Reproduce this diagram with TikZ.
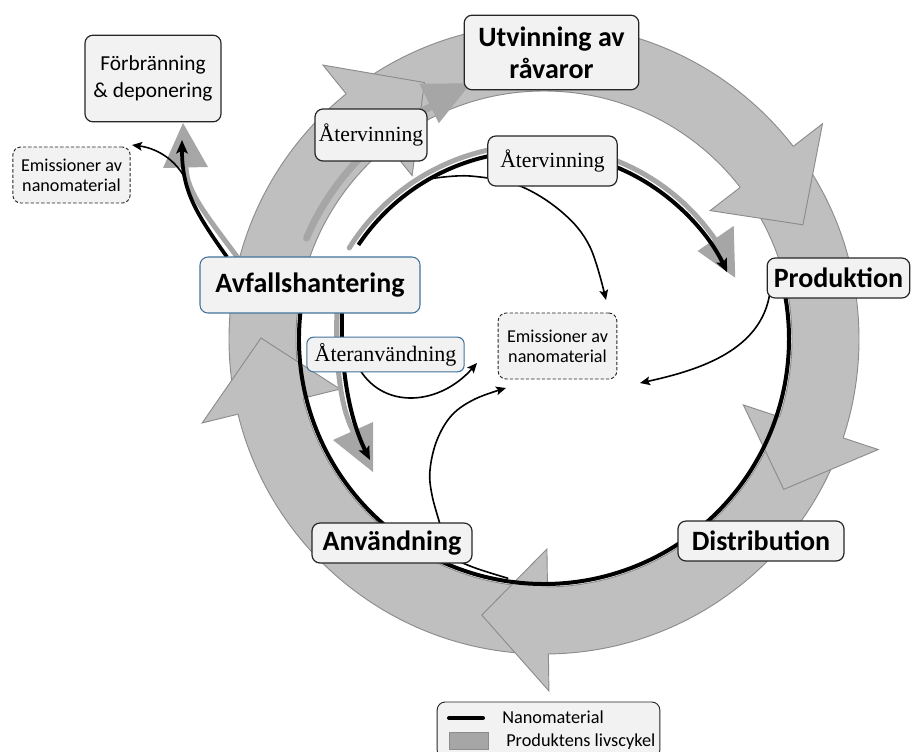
\documentclass[tikz,border=0pt]{standalone}
\usepackage{fontspec}
\setmainfont{Carlito}
\newfontfamily\labelserif{Liberation Serif}
\usetikzlibrary{arrows.meta}

\definecolor{ringfill}{HTML}{BFBFBF}
\definecolor{ringedge}{HTML}{8C8C8C}
\definecolor{flowgray}{HTML}{A6A6A6}
\definecolor{boxfill}{HTML}{F2F2F2}
\definecolor{boxline}{HTML}{262626}
\definecolor{blueline}{HTML}{41719C}

\tikzset{
  stage/.style={draw=boxline, fill=boxfill, rounded corners=6pt, line width=0.9pt,
    inner sep=0pt, align=center, text=black, font=\fontsize{21}{24}\selectfont\bfseries},
  wastebox/.style={stage, draw=blueline, line width=0.8pt},
  smallbox/.style={draw=boxline, fill=boxfill, rounded corners=6pt, line width=0.9pt,
    inner sep=0pt, align=center, font=\fontsize{16}{20}\selectfont},
  recyclebox/.style={smallbox, font=\labelserif\fontsize{16.2}{18}\selectfont},
  reusebox/.style={recyclebox, draw=blueline, line width=0.8pt, rounded corners=5pt,
    font=\labelserif\fontsize{16.5}{18}\selectfont},
  emisbox/.style={smallbox, dashed, dash pattern=on 2.5pt off 1.5pt, line width=0.7pt,
    font=\fontsize{13.6}{15}\selectfont},
  ringpart/.style={fill=ringfill},
  ringline/.style={draw=ringedge, line width=0.7pt},
  nano/.style={draw=black, line width=3pt},
  nanoflow/.style={draw=black, line width=1.2pt, -{Stealth[length=7.5pt,width=6.5pt,inset=1.5pt]}},
  nanohead/.style={-{Stealth[length=10pt,width=8.5pt,inset=2pt]}},
  lifeline/.style={draw=flowgray, line width=3.75pt, line cap=round},
  legendtext/.style={anchor=west, inner sep=0pt, font=\fontsize{13.7}{15}\selectfont},
}

\begin{document}
\begin{tikzpicture}[x=0.75pt, y=-0.75pt]
\clip (0,0) rectangle (911,751);

% ---------- product life cycle ring ----------
\begin{scope}[shift={(544,339)}, x=0.75pt, y=0.75pt]
  \fill[ringpart, even odd rule] (0,0) circle[radius=315] (0,0) circle[radius=248];
  \draw[ringline] (0,0) circle[radius=315];
  \draw[ringline] (0,0) circle[radius=248];
  % arrow heads along the ring: back edge angle / tip angle
  \foreach \b/\t in {128.9/115, 37.7/23.8, -18.3/-32.1, -89.2/-102.7, 193.8/179.8} {
    \fill[ringpart] (\b:210) -- (\t:283) -- (\b:352) -- cycle;
    \draw[ringline, line join=miter] (\b:248) -- (\b:210) -- (\t:283) -- (\b:352) -- (\b:315);
  }
  % recycling of the product back to raw materials
  \draw[lifeline, line width=5.2pt] (157:258) arc[start angle=157, end angle=116, radius=260];
  \fill[flowgray] (116:240) -- (106:266) -- (116:284) -- cycle;
  % nanomaterial through production, distribution and use
  \draw[nano] (172:245) arc[start angle=172, end angle=372, radius=245];
  \coordinate (useorig) at (-98.5:242);
\end{scope}

% ---------- recycling loop of the nanomaterial ----------
\begin{scope}[shift={(535,364)}, x=0.75pt, y=0.75pt]
  \draw[lifeline] (148:219) arc[start angle=148, end angle=34.8, radius=219];
  \fill[flowgray] (34.8:198) -- (23.3:218) -- (34.8:242) -- cycle;
  \draw[nano, nanohead] (146:213) arc[start angle=146, end angle=25.5, radius=213];
  \coordinate (recycorig) at (119.6:213);
\end{scope}

\coordinate (emisC) at (557.5,346);

% reuse loop
\coordinate (reuseA) at (337,310);
\coordinate (reuseB) at (342,310);
\coordinate (reuseG) at (353,431);
\coordinate (reuseT) at (370,460);
\draw[lifeline] (reuseA) .. controls (335,370) and (342,410) .. (reuseG);
\fill[flowgray] (333,440) -- (373,422) -- (373,472) -- cycle;
\draw[nano, nanohead] (reuseB) .. controls (340,370) and (350,420) .. (reuseT);

% incineration / landfill branch
\coordinate (burnG0) at (238,258);
\coordinate (burnG1) at (186,168);
\coordinate (burnB0) at (227,257);
\coordinate (burnB1) at (182,140);
\draw[lifeline] (burnG0) .. controls (206,215) and (187,192) .. (burnG1);
\fill[flowgray] (163,168) -- (183,123) -- (208,167) -- cycle;
\draw[nano, nanohead, line width=2.8pt] (burnB0) .. controls (195,212) and (182,190) .. (burnB1);
\coordinate (burnE0) at (186,180);
\coordinate (burnE1) at (132,145);
\draw[nanoflow] (burnE0) .. controls (175,158) and (155,148) .. (burnE1);

% emissions towards the centre
\coordinate (prodorig) at (770,292);
\coordinate (prodE) at (640,383);
\draw[nanoflow] (prodorig) .. controls (762,350) and (700,370) .. (prodE);
\coordinate (recycE) at (606,300);
\draw[nanoflow] plot[smooth, tension=0.6] coordinates
  {(recycorig) (470,176) (520,186) (563,213) (590,247) (recycE)};
\coordinate (reuseorig) at (360,370);
\coordinate (reuseE) at (477,363);
\draw[nanoflow] (reuseorig) .. controls (385,410) and (440,405) .. (reuseE);
\coordinate (useE) at (506,388);
\draw[nanoflow] plot[smooth, tension=0.6] coordinates
  {(useorig) (470,566) (447,553) (441,528) (432,495) (430,470) (437,440) (452,415) (475,399) (useE)};

% ---------- nodes ----------
\node[stage, minimum width=131pt, minimum height=56pt] (raw) at (551.5,52.5) {Utvinning av\\råvaror};
\node[stage, minimum width=107pt, minimum height=30pt] (prod) at (838.5,278) {Produktion};
\node[stage, minimum width=124.5pt, minimum height=30pt] (dist) at (761,541) {Distribution};
\node[stage, minimum width=120pt, minimum height=30pt] (use) at (392,543) {Användning};
\node[wastebox, minimum width=165pt, minimum height=42pt] (waste) at (310,285) {Avfallshantering};
\node[smallbox, minimum width=102pt, minimum height=65pt] (burn) at (153,78.5) {Förbränning\\\& deponering};
\node[emisbox, minimum width=88pt, minimum height=42pt] (emisL) at (71.5,175) {Emissioner av\\nanomaterial};
\node[emisbox, minimum width=89pt, minimum height=49.5pt] (emis) at (emisC) {Emissioner av\\nanomaterial};
\node[recyclebox, minimum width=84pt, minimum height=39pt] (recL) at (371,135) {Återvinning};
\node[recyclebox, minimum width=97pt, minimum height=37.5pt] (recI) at (552.5,161) {Återvinning};
\node[reusebox, minimum width=118pt, minimum height=26pt] (reuse) at (385.5,354.5) {Återanvändning};

% ---------- legend ----------
\node[draw=boxline, fill=boxfill, rounded corners=6pt, line width=0.7pt,
  minimum width=167pt, minimum height=42pt, inner sep=0pt] (legend) at (548.5,730) {};
\coordinate (legA) at (449,718);
\coordinate (legB) at (483,718);
\draw[black, line width=3pt, line cap=round] (legA) -- (legB);
\node[legendtext] (legN) at (502,717) {Nanomaterial};
\draw[fill=flowgray, draw=ringedge, line width=0.6pt] (449,732) rectangle (488,749);
\node[legendtext] (legP) at (506,741.5) {Produktens livscykel};
\end{tikzpicture}
\end{document}
